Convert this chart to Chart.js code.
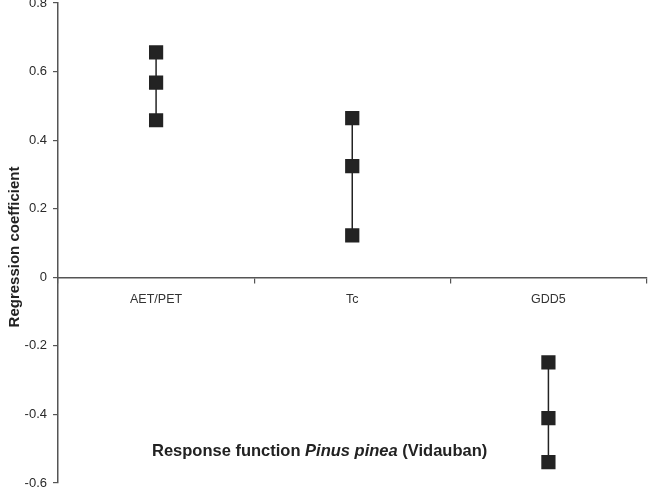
<!DOCTYPE html>
<html>
<head>
<meta charset="utf-8">
<script src="https://cdn.jsdelivr.net/npm/chart.js@4.4.1/dist/chart.umd.min.js"></script>
<style>
  html, body { margin: 0; padding: 0; background: #fff; overflow: hidden; }
  #wrap { position: relative; width: 653px; height: 498px; overflow: hidden; }
  #chart { position: absolute; left: 0; top: -20px; }
</style>
</head>
<body>
<div id="wrap"><canvas id="chart" width="657" height="518"></canvas></div>
<script>
// response function coefficients
const categories = ['AET/PET', 'Tc', 'GDD5'];
const highValues = [0.656, 0.464, -0.248];
const midValues = [0.568, 0.324, -0.411];
const lowValues = [0.458, 0.122, -0.539];
const yTicks = [0.8, 0.6, 0.4, 0.2, 0, -0.2, -0.4, -0.6];

const ink = '#232323';

// one vertical line per category: high, mid, low
const datasets = categories.map((cat, i) => ({
    label: cat,
    data: [
        { x: cat, y: highValues[i] },
        { x: cat, y: midValues[i] },
        { x: cat, y: lowValues[i] }
    ],
    borderColor: ink,
    backgroundColor: ink,
    borderWidth: 1.5,
    pointStyle: 'rect',
    pointRadius: 9,
    pointHoverRadius: 9,
    tension: 0
}));

// titles drawn by hand so that part of the caption can be italic
const titles = {
    id: 'titles',
    afterDraw(chart) {
        const ctx = chart.ctx;
        ctx.save();
        ctx.fillStyle = '#222';
        ctx.textBaseline = 'middle';

        // y axis title
        ctx.save();
        ctx.translate(15, 267);
        ctx.rotate(-Math.PI / 2);
        ctx.textAlign = 'center';
        ctx.font = 'bold 15px "Liberation Sans", Arial, sans-serif';
        ctx.fillText('Regression coefficient', 0, 0);
        ctx.restore();

        // caption inside the plot
        const parts = [
            ['Response function ', 'bold 16.5px "Liberation Sans", Arial, sans-serif'],
            ['Pinus pinea', 'italic bold 16.5px "Liberation Sans", Arial, sans-serif'],
            [' (Vidauban)', 'bold 16.5px "Liberation Sans", Arial, sans-serif']
        ];
        let x = 152;
        ctx.textAlign = 'left';
        parts.forEach(([txt, font]) => {
            ctx.font = font;
            ctx.fillText(txt, x, 471);
            x += ctx.measureText(txt).width;
        });
        ctx.restore();
    }
};

new Chart(document.getElementById('chart').getContext('2d'), {
    type: 'line',
    data: { labels: categories, datasets: datasets },
    options: {
        responsive: false,
        animation: false,
        layout: { padding: { top: 23, right: 3, bottom: 15, left: 0 } },
        plugins: {
            legend: { display: false },
            tooltip: { enabled: false }
        },
        scales: {
            x: {
                type: 'category',
                position: { y: 0 },
                offset: true,
                grid: {
                    offset: true,
                    drawOnChartArea: false,
                    drawTicks: true,
                    tickLength: 5,
                    color: '#555',
                    lineWidth: 1.2
                },
                border: { color: '#555', width: 1.5 },
                ticks: {
                    padding: 10,
                    color: '#333',
                    font: { family: '"Liberation Sans", Arial', size: 12.5 }
                }
            },
            y: {
                min: -0.6,
                max: 0.8,
                afterFit(scale) { scale.width = 58; },
                afterBuildTicks(scale) { scale.ticks = yTicks.map(v => ({ value: v })); },
                grid: {
                    drawOnChartArea: false,
                    tickLength: 5,
                    color: '#555',
                    lineWidth: 1.2
                },
                border: { color: '#555', width: 1.5 },
                ticks: {
                    padding: 6,
                    color: '#2a2a2a',
                    font: { family: '"Liberation Sans", Arial', size: 13 },
                    callback: v => (v === 0 ? '0' : String(Math.round(v * 10) / 10))
                }
            }
        }
    },
    plugins: [titles]
});
</script>
</body>
</html>
